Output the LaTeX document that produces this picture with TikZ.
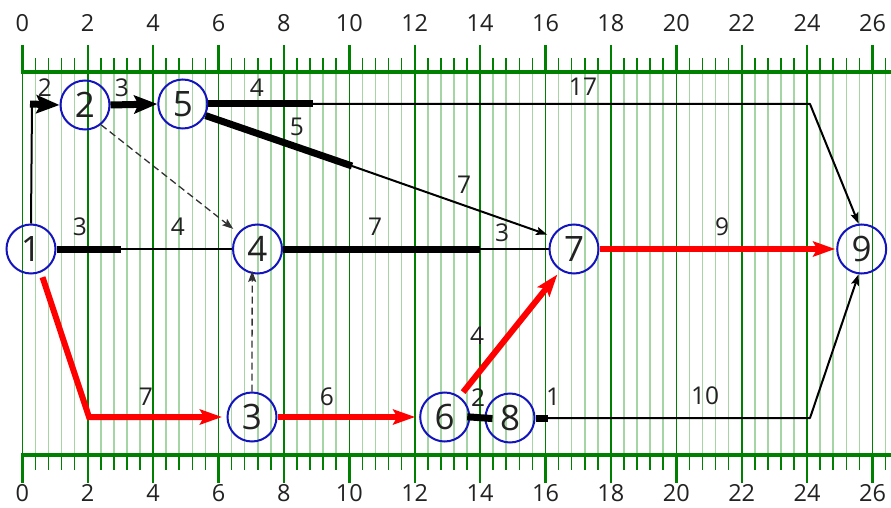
\documentclass[tikz,border=0pt]{standalone}
\usepackage{fontspec}
\setmainfont{Open Sans}
\usetikzlibrary{arrows.meta}
\definecolor{gridlight}{RGB}{165,212,165}
\definecolor{griddark}{RGB}{0,128,0}
\definecolor{axisgreen}{RGB}{0,128,0}
\definecolor{nodeblue}{RGB}{20,20,190}
\definecolor{txt}{RGB}{34,34,34}
\definecolor{crit}{RGB}{255,0,0}
\begin{document}
\begin{tikzpicture}[x=1pt,y=-1pt,
  event/.style={circle, draw=nodeblue, line width=2pt, minimum size=49pt, inner sep=0pt, text=txt, font=\fontsize{35}{35}\selectfont, text height=25pt, text depth=0pt},
  lbl/.style={text=txt, font=\fontsize{24.5}{24.5}\selectfont, inner sep=0pt, text height=17.5pt, text depth=0pt},
  axlbl/.style={text=txt, font=\fontsize{23.5}{23.5}\selectfont, inner sep=0pt, text height=16.8pt, text depth=0pt},
  work/.style={line width=7pt, black},
  bigtip/.style={-{Stealth[length=23pt,width=18pt,inset=4pt]}},
  slack/.style={line width=2pt, black, line join=round},
  smalltip/.style={-{Stealth[length=11pt,width=8pt,inset=2pt]}},
  critical/.style={line width=6pt, crit, -{Stealth[length=22pt,width=15pt,inset=4pt]}},
  dummy/.style={line width=1.3pt, black!80, dash pattern=on 7pt off 4pt, -{Stealth[length=11pt,width=8pt,inset=2pt]}},
  gridminor/.style={gridlight, line width=1.6pt},
  gridmajor/.style={griddark, line width=1.6pt},
  axisline/.style={axisgreen, line width=3.5pt},
  tickmajor/.style={axisgreen, line width=2.4pt},
  tickminor/.style={axisgreen, line width=1.6pt}
]
\useasboundingbox (0,0) rectangle (891,508);
\fill[white] (0,0) rectangle (891,508);

% grid and ticks
\foreach \i in {0,...,66}{
  \pgfmathsetmacro\xx{22.3+13.08*\i}
  \pgfmathtruncatemacro\m{mod(\i,5)}
  \ifnum\m=0
    \draw[gridmajor] (\xx,72) -- (\xx,455);
    \draw[tickmajor] (\xx,45) -- (\xx,72);
    \draw[tickmajor] (\xx,455) -- (\xx,482.5);
  \else
    \draw[gridminor] (\xx,72) -- (\xx,455);
    \draw[tickminor] (\xx,58) -- (\xx,72);
    \draw[tickminor] (\xx,455) -- (\xx,470);
  \fi
}
\draw[axisline] (20.5,72) -- (891,72);
\draw[axisline] (20.5,455) -- (891,455);
\foreach \d in {0,2,...,26}{
  \pgfmathsetmacro\xx{22.3+32.7*\d}
  \node[axlbl] (top\d) at (\xx,23.5) {\d};
  \node[axlbl] (bot\d) at (\xx,493.5) {\d};
}

% events
\node[event] (n1) at (31,249) {1};
\node[event] (n2) at (85,105) {2};
\node[event] (n5) at (182.8,104) {5};
\node[event] (n4) at (257.5,249) {4};
\node[event] (n7) at (574,249) {7};
\node[event] (n9) at (861.7,249) {9};
\node[event] (n3) at (252,417) {3};
\node[event] (n6) at (444.7,417) {6};
\node[event] (n8) at (510,418) {8};

% helper coordinates
\coordinate (c12) at (32,104);
\coordinate (w59) at (313,104);
\coordinate (b59) at (810,104);
\coordinate (w57) at (352,166);
\coordinate (w14) at (120.5,249);
\coordinate (w47) at (480,249);
\coordinate (b13) at (89,417);
\coordinate (w89) at (548,418);
\coordinate (b89) at (810,418);

% activities
\draw[slack] (n1.north) -- (c12);
\draw[work,bigtip] ([xshift=-2pt]c12) -- (n2.west);
\draw[work,bigtip] (n2.east) -- (n5.west);

\draw[work] (n5.east) -- (w59);
\draw[slack,smalltip] (w59) -- (b59) -- (n9.97);

\draw[work] (n5.-27) -- (w57);
\draw[slack,smalltip,shorten >=5pt] (w57) -- (n7.150);

\draw[dummy,shorten >=6pt] (n2.-51) -- (n4.140);
\draw[dummy,shorten >=-3pt] (n3.north) -- (n4.-102);

\draw[work] (n1.east) -- (w14);
\draw[slack] (w14) -- (n4.west);
\draw[work] (n4.east) -- (w47);
\draw[slack] (w47) -- (n7.west);

\draw[critical,shorten <=5pt,shorten >=4.5pt] (n1.-67) -- (b13) -- (n3.west);
\draw[critical,shorten >=4pt] (n3.east) -- (n6.west);
\draw[critical,shorten <=5.5pt,shorten >=5pt] (n6.54) -- (n7.-122);
\draw[critical,shorten >=1pt] (n7.east) -- (n9.west);

\draw[work,shorten <=-3pt,shorten >=-8pt] (n6.east) -- (n8.west);
\draw[work] (n8.east) -- (w89);
\draw[slack,smalltip] (w89) -- (b89) -- (n9.-97);

% labels
\node[lbl] (l12) at (45,88) {2};
\node[lbl] (l25) at (122,88) {3};
\node[lbl] (l59a) at (257,88) {4};
\node[lbl] (l59b) at (583,87) {17};
\node[lbl] (l57a) at (297,127) {5};
\node[lbl] (l57b) at (464,185) {7};
\node[lbl] (l14a) at (80,227) {3};
\node[lbl] (l14b) at (178,227) {4};
\node[lbl] (l47a) at (375,227) {7};
\node[lbl] (l47b) at (502,233) {3};
\node[lbl] (l79) at (722,227) {9};
\node[lbl] (l13) at (146,397) {7};
\node[lbl] (l36) at (327,397) {6};
\node[lbl] (l67) at (477,336) {4};
\node[lbl] (l68) at (478,398) {2};
\node[lbl] (l89a) at (553,397) {1};
\node[lbl] (l89b) at (705,396) {10};
\end{tikzpicture}
\end{document}
